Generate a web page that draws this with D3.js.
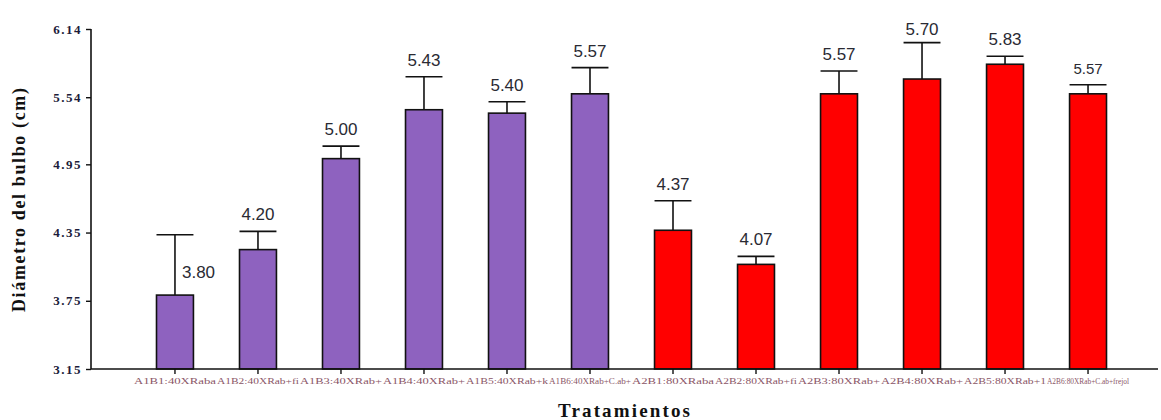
<!DOCTYPE html>
<html>
<head>
<meta charset="utf-8">
<script src="https://cdn.jsdelivr.net/npm/d3@7"></script>
<style>
  html, body { margin: 0; padding: 0; background: #fff; }
  svg { display: block; }
</style>
</head>
<body>
<svg id="chart" width="1161" height="420"></svg>
<script>
// Treatments (dosis de abono x tipo de abono)
const categories = [
  "A1B1:40XRaba", "A1B2:40XRab+fi", "A1B3:40XRab+", "A1B4:40XRab+",
  "A1B5:40XRab+k", "A1B6:40XRab+C.ab+", "A2B1:80XRaba", "A2B2:80XRab+fi",
  "A2B3:80XRab+", "A2B4:80XRab+", "A2B5:80XRab+1", "A2B6:80XRab+C.ab+frejol"
];
// Mean bulb diameter (cm)
const means = [3.80, 4.20, 5.00, 5.43, 5.40, 5.57, 4.37, 4.07, 5.57, 5.70, 5.83, 5.57];
// Upper error (cm)
const errors = [0.53, 0.16, 0.11, 0.29, 0.10, 0.23, 0.26, 0.07, 0.20, 0.32, 0.07, 0.08];
// Dose group of each treatment
const groups = ["A1", "A1", "A1", "A1", "A1", "A1", "A2", "A2", "A2", "A2", "A2", "A2"];
const yTicks = [3.15, 3.75, 4.35, 4.95, 5.54, 6.14];

const groupColor = { A1: "#8e62bf", A2: "#ff0000" };

const svg = d3.select("#chart");
const x0 = 91, x1 = 1158, yTop = 29, yBot = 369;

const x = d3.scaleBand()
  .domain(categories)
  .range([156.5, 1106.5])
  .paddingInner(0.555)
  .paddingOuter(0);

const y = d3.scaleLinear().domain([3.15, 6.14]).range([yBot, yTop]);

// Bars
svg.append("g").selectAll("rect")
  .data(categories)
  .join("rect")
  .attr("x", d => x(d))
  .attr("y", (d, i) => y(means[i]))
  .attr("width", x.bandwidth())
  .attr("height", (d, i) => yBot - y(means[i]))
  .attr("fill", (d, i) => groupColor[groups[i]])
  .attr("stroke", "#111")
  .attr("stroke-width", 1.6);

// Error bars (upper whisker)
const eb = svg.append("g").attr("stroke", "#111").attr("stroke-width", 1.6);
categories.forEach((c, i) => {
  const cx = x(c) + x.bandwidth() / 2;
  const top = y(means[i] + errors[i]);
  eb.append("line").attr("x1", cx).attr("x2", cx)
    .attr("y1", y(means[i])).attr("y2", top);
  eb.append("line")
    .attr("x1", x(c)).attr("x2", x(c) + x.bandwidth())
    .attr("y1", top).attr("y2", top);
});

// Value labels (the first one sits beside its whisker)
svg.append("g").selectAll("text")
  .data(categories)
  .join("text")
  .attr("x", (d, i) => i === 0 ? x(d) + x.bandwidth() / 2 + 7 : x(d) + x.bandwidth() / 2)
  .attr("y", (d, i) => i === 0 ? y(means[i]) - 17 : Math.max(y(means[i] + errors[i]) - 11, 35))
  .attr("text-anchor", (d, i) => i === 0 ? "start" : "middle")
  .attr("font-family", "Liberation Sans, Arial, sans-serif")
  .attr("font-size", (d, i) => i === categories.length - 1 ? 15 : 17)
  .attr("fill", "#2a2a33")
  .text((d, i) => means[i].toFixed(2));

// Y axis
const yAxis = svg.append("g")
  .attr("transform", `translate(${x0},0)`)
  .call(d3.axisLeft(y).tickValues(yTicks).tickFormat(d3.format(".2f")).tickSize(5).tickSizeOuter(0));
yAxis.select(".domain").attr("stroke", "#111").attr("stroke-width", 1.6)
  .attr("d", `M0,${yTop}V${yBot}`);
yAxis.selectAll(".tick line").attr("stroke", "#111").attr("stroke-width", 1.4);
yAxis.selectAll(".tick text")
  .attr("font-family", "Liberation Serif, Times New Roman, serif")
  .attr("font-weight", "bold")
  .attr("font-size", 13)
  .attr("letter-spacing", 1.5)
  .attr("fill", "#1c1c3a")
  .attr("x", -9);

// X axis
const xAxis = svg.append("g")
  .attr("transform", `translate(0,${yBot})`)
  .call(d3.axisBottom(x).tickSize(5).tickSizeOuter(0));
xAxis.select(".domain").attr("stroke", "#111").attr("stroke-width", 1.6)
  .attr("d", `M${x0},0H${x1}`);
xAxis.selectAll(".tick line").attr("stroke", "#111").attr("stroke-width", 1.4);
xAxis.selectAll(".tick text")
  .attr("font-family", "Liberation Serif, Times New Roman, serif")
  .attr("font-size", 8)
  .attr("fill", "#8a5566")
  .attr("y", 9)
  .attr("textLength", 82)
  .attr("lengthAdjust", "spacingAndGlyphs");

// Axis titles
svg.append("text")
  .attr("transform", "translate(25,200) rotate(-90)")
  .attr("text-anchor", "middle")
  .attr("font-family", "Liberation Serif, Times New Roman, serif")
  .attr("font-weight", "bold")
  .attr("font-size", 18)
  .attr("fill", "#111")
  .attr("textLength", 224)
  .attr("lengthAdjust", "spacing")
  .text("Diámetro del bulbo (cm)");

svg.append("text")
  .attr("x", 624)
  .attr("y", 417)
  .attr("text-anchor", "middle")
  .attr("font-family", "Liberation Serif, Times New Roman, serif")
  .attr("font-weight", "bold")
  .attr("font-size", 19)
  .attr("fill", "#111")
  .attr("textLength", 132)
  .attr("lengthAdjust", "spacing")
  .text("Tratamientos");
</script>
</body>
</html>
